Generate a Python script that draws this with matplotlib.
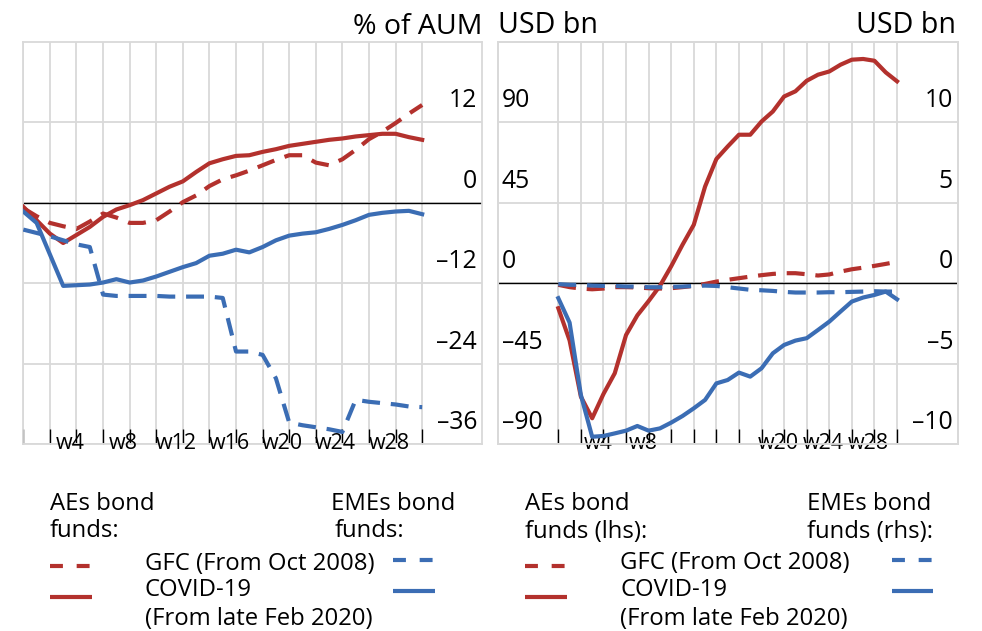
import numpy as np
import matplotlib.pyplot as plt
from matplotlib.lines import Line2D

plt.rcParams['font.family'] = ['Open Sans', 'DejaVu Sans']

# weeks since start of episode
weeks = np.arange(31)

# left panel: cumulative flows, % of AUM
aes_gfc_pct = [-0.8, -2.0, -3.0, -3.5, -3.9, -2.8, -1.6, -2.2, -3.0, -3.0, -2.6, -1.3, 0.1, 1.1, 2.5, 3.5,
               4.1, 4.8, 5.6, 6.4, 7.1, 7.1, 6.0, 5.6, 6.5, 7.9, 9.5, 10.6, 11.9, 13.3, 14.6]
aes_covid_pct = [-0.6, -2.6, -4.6, -6.0, -4.8, -3.6, -2.1, -1.0, -0.35, 0.4, 1.4, 2.4, 3.2, 4.6, 5.9, 6.5,
                 7.0, 7.1, 7.6, 8.0, 8.5, 8.8, 9.1, 9.4, 9.6, 9.9, 10.1, 10.3, 10.3, 9.8, 9.4]
emes_gfc_pct = [-4.0, -4.5, -5.0, -5.6, -6.2, -6.6, -13.7, -13.9, -13.9, -13.9, -13.9, -14.0, -14.0, -14.0,
                -14.0, -14.2, -22.2, -22.2, -22.7, -26.2, -32.8, -33.2, -33.5, -33.8, -34.2, -29.4,
                -29.7, -29.9, -30.1, -30.4, -30.5]
emes_covid_pct = [-1.3, -3.0, -7.7, -12.4, -12.3, -12.2, -11.9, -11.4, -11.9, -11.6, -11.0, -10.3, -9.6,
                  -9.0, -7.9, -7.6, -7.0, -7.4, -6.6, -5.6, -4.9, -4.6, -4.4, -3.9, -3.3, -2.6, -1.8,
                  -1.5, -1.3, -1.2, -1.7]

# right panel: cumulative flows, USD bn (AEs on lhs, EMEs on rhs)
aes_gfc_usd = [-0.9, -2.2, -3.0, -3.4, -3.0, -2.2, -2.2, -2.4, -2.8, -3.0, -2.8, -2.2, -1.5, -0.4, 0.9,
               1.9, 2.8, 3.7, 4.5, 5.2, 5.6, 5.6, 5.0, 4.3, 4.9, 6.5, 7.8, 8.7, 9.7, 10.8, 12.0]
aes_covid_usd = [-14.0, -32.0, -63.5, -75.6, -62.0, -50.4, -29.0, -18.0, -10.0, -1.5, 9.5, 21.5, 32.7,
                 54.1, 69.5, 76.5, 83.1, 83.1, 90.5, 96.1, 104.5, 107.4, 113.3, 116.7, 118.5, 122.3,
                 125.1, 125.5, 124.5, 118.0, 113.0]
emes_gfc_usd = [-0.06, -0.10, -0.10, -0.15, -0.17, -0.17, -0.21, -0.21, -0.25, -0.25, -0.23, -0.21,
                -0.17, -0.15, -0.17, -0.25, -0.33, -0.41, -0.44, -0.48, -0.54, -0.58, -0.58, -0.58,
                -0.56, -0.56, -0.54, -0.52, -0.50, -0.52, -0.52]
emes_covid_usd = [-0.93, -2.45, -6.95, -9.55, -9.50, -9.34, -9.17, -8.88, -9.17, -9.03, -8.67, -8.26,
                  -7.78, -7.26, -6.23, -6.02, -5.56, -5.81, -5.29, -4.36, -3.84, -3.57, -3.42, -2.91,
                  -2.39, -1.76, -1.14, -0.89, -0.73, -0.52, -1.00]

left_ticks = [12, 0, -12, -24, -36]
lhs_ticks = [90, 45, 0, -45, -90]
rhs_ticks = [10, 5, 0, -5, -10]
left_wk = [4, 8, 12, 16, 20, 24, 28]
right_wk = [4, 8, 20, 24, 28]

RED = '#B3312D'
BLUE = '#3B6DB4'
GRID = '#D9D9D9'
DASH = (0, (4.3, 2.6))
LW = 3.0

W, H = 982, 631


def fig_xy(x, y):
    return x / W, 1 - y / H


def fmt(v):
    return f'{v:g}'.replace('-', '\u2013')


fig = plt.figure(figsize=(W / 100, H / 100), dpi=100)
ax1 = fig.add_axes([23.3 / W, 1 - 444 / H, 458.7 / W, 402 / H])
ax2 = fig.add_axes([498 / W, 1 - 444 / H, 460 / W, 402 / H])
ax2r = ax2.twinx()

ax1.set_xlim(0, 34.5)
ax1.set_ylim(-36, 24)
ax2.set_xlim(-5.34, 35.4)
ax2.set_ylim(-90, 135)
ax2r.set_ylim(-10, 15)

for ax, yt in ((ax1, left_ticks), (ax2, lhs_ticks)):
    ax.set_xticks(np.arange(0, 31, 2))
    ax.set_yticks(yt)
    ax.grid(True, color=GRID, lw=1.3, zorder=0)
    ax.tick_params(axis='x', direction='in', length=11, width=1, color='black', labelbottom=False)
    ax.tick_params(axis='y', length=0, labelleft=False)
    ax.axhline(0, color='black', lw=1.0, zorder=2)
    for s in ax.spines.values():
        s.set_color(GRID)
        s.set_linewidth(1.3)
ax2r.tick_params(axis='y', length=0, labelright=False)
for s in ax2r.spines.values():
    s.set_color(GRID)
    s.set_linewidth(1.3)

# left panel
ax1.plot(weeks, aes_covid_pct, color=RED, lw=LW, zorder=3)
ax1.plot(weeks, aes_gfc_pct, color=RED, lw=LW, ls=DASH, dash_capstyle='butt', zorder=3)
ax1.plot(weeks, emes_covid_pct, color=BLUE, lw=LW, zorder=3)
ax1.plot(weeks, emes_gfc_pct, color=BLUE, lw=LW, ls=DASH, dash_capstyle='butt', zorder=3)

# right panel
ax2.plot(weeks, aes_covid_usd, color=RED, lw=LW, zorder=3)
ax2.plot(weeks, aes_gfc_usd, color=RED, lw=LW, ls=DASH, dash_capstyle='butt', zorder=3)
ax2r.plot(weeks, emes_covid_usd, color=BLUE, lw=LW, zorder=3)
ax2r.plot(weeks, emes_gfc_usd, color=BLUE, lw=LW, ls=DASH, dash_capstyle='butt', zorder=3)

# y tick labels sit above their gridlines, inside the plot area
TICK_FS = 17.8
for v in left_ticks:
    ax1.annotate(fmt(v), xy=(1, v), xycoords=('axes fraction', 'data'), xytext=(-5, 15),
                 textcoords='offset pixels', ha='right', va='baseline', fontsize=TICK_FS)
for v in lhs_ticks:
    ax2.annotate(fmt(v), xy=(0, v), xycoords=('axes fraction', 'data'), xytext=(4, 15),
                 textcoords='offset pixels', ha='left', va='baseline', fontsize=TICK_FS)
for v in rhs_ticks:
    ax2r.annotate(fmt(v), xy=(1, v), xycoords=('axes fraction', 'data'), xytext=(-5, 15),
                  textcoords='offset pixels', ha='right', va='baseline', fontsize=TICK_FS)

# week labels
for ax, wk in ((ax1, left_wk), (ax2, right_wk)):
    for w in wk:
        ax.annotate(f'w{w}', xy=(w - 0.5, 0), xycoords=('data', 'axes fraction'), xytext=(0, -5),
                    textcoords='offset pixels', ha='center', va='baseline', fontsize=15.5,
                    annotation_clip=False)

# unit titles
fig.text(*fig_xy(482, 34), '% of AUM', ha='right', va='baseline', fontsize=20.5)
fig.text(*fig_xy(498, 33), 'USD bn', ha='left', va='baseline', fontsize=20.6)
fig.text(*fig_xy(956, 33), 'USD bn', ha='right', va='baseline', fontsize=20.6)

# legends
LEG_FS = 17.2


def leg_line(x0, x1, y, color, dashed):
    xa, ya = fig_xy(x0, y)
    xb, _ = fig_xy(x1, y)
    ls = (0, (3.1, 3.3)) if dashed else '-'
    fig.add_artist(Line2D([xa, xb], [ya, ya], color=color, lw=LW, ls=ls, solid_capstyle='butt',
                          dash_capstyle='butt'))


def leg_text(x, y, s):
    fig.text(*fig_xy(x, y), s, ha='left', va='baseline', fontsize=LEG_FS)


# left legend
leg_text(50, 510, 'AEs bond')
leg_text(50, 537, 'funds:')
leg_text(331, 510, 'EMEs bond')
leg_text(335, 537, 'funds:')
leg_text(145, 570, 'GFC (From Oct 2008)')
leg_text(145, 596, 'COVID-19')
leg_text(145, 625, '(From late Feb 2020)')
leg_line(50, 92, 566, RED, True)
leg_line(50, 92, 597, RED, False)
leg_line(393, 435, 560, BLUE, True)
leg_line(393, 435, 591, BLUE, False)

# right legend
leg_text(525, 510, 'AEs bond')
leg_text(525, 538, 'funds (lhs):')
leg_text(807, 510, 'EMEs bond')
leg_text(807, 538, 'funds (rhs):')
leg_text(620, 569, 'GFC (From Oct 2008)')
leg_text(620, 596, 'COVID-19')
leg_text(620, 625, '(From late Feb 2020)')
leg_line(525, 567, 566, RED, True)
leg_line(525, 567, 597, RED, False)
leg_line(892, 933, 560, BLUE, True)
leg_line(892, 933, 591, BLUE, False)

fig.savefig('out.png', dpi=100)
